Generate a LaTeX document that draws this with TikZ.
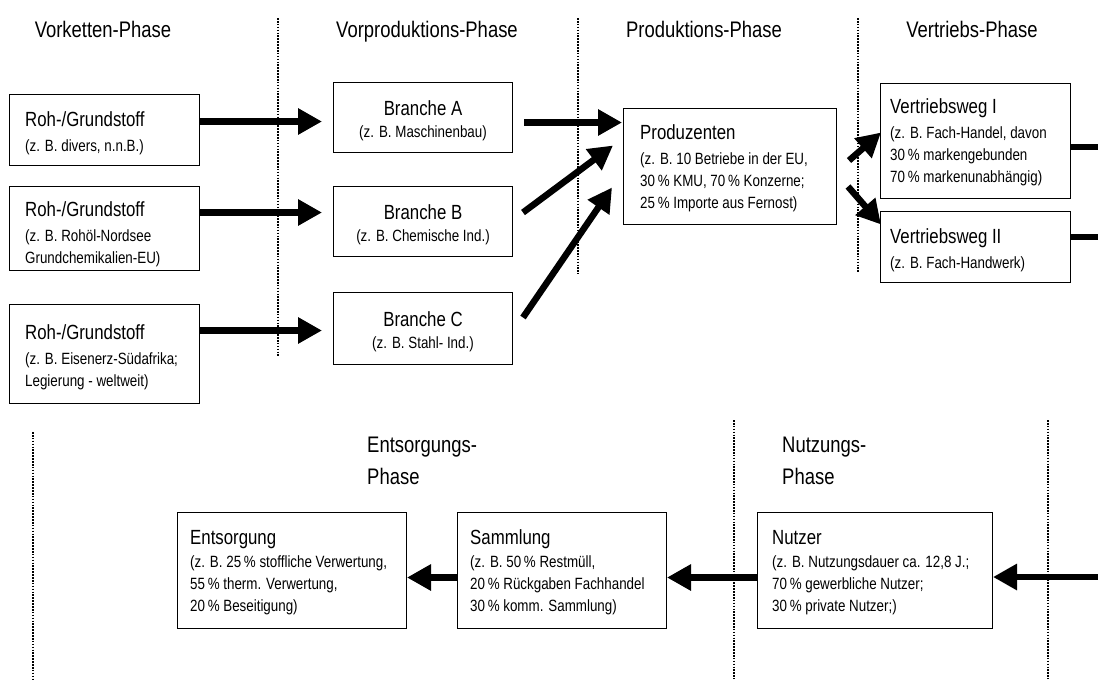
\documentclass[tikz,border=0pt]{standalone}
\usepackage{fontspec}
\setmainfont[FakeStretch=0.82]{Liberation Sans}
\usetikzlibrary{arrows.meta}
% font sizes: box titles, box details, phase headings
\newcommand\hd[1]{{\fontsize{20.5pt}{24pt}\selectfont #1}}
\newcommand\subf{\fontsize{16.3pt}{22pt}\selectfont}
\newcommand\phf{\fontsize{22.5pt}{32pt}\selectfont}
\begin{document}
\begin{tikzpicture}[x=1pt,y=-1pt,
  phase/.style={font=\phf, inner sep=0pt, text=black},
  frame/.style={draw=black, line width=1pt, anchor=north west, inner sep=0pt},
  txt/.style={align=left, anchor=west, inner sep=0pt, font=\subf, text=black},
  ctxt/.style={align=center, anchor=center, inner sep=0pt, font=\subf, text=black},
  arr/.style={line width=6.5pt, -{Triangle[length=24pt,width=25pt]}},
  bar/.style={line width=6.5pt},
  sep/.style={line width=1.6pt, dash pattern=on 1.6pt off 1.3pt}]
\path[use as bounding box] (0,0) rectangle (1098,681);

% phase separators
\draw[sep] (278,18) -- (278,357);
\draw[sep] (578,18) -- (578,274);
\draw[sep] (858,18) -- (858,272);
\draw[sep] (33,432) -- (33,679);
\draw[sep] (734,420) -- (734,679);
\draw[sep] (1048,420) -- (1048,679);

% phase headings
\node[phase, anchor=base] (ph1) at (103,37) {Vorketten-Phase};
\node[phase, anchor=base] (ph2) at (427,37) {Vorproduktions-Phase};
\node[phase, anchor=base] (ph3) at (704,37) {Produktions-Phase};
\node[phase, anchor=base] (ph4) at (972,37) {Vertriebs-Phase};
\node[phase, anchor=north west, align=left] (ph5) at (367,437) {Entsorgungs-\\Phase};
\node[phase, anchor=north west, align=left] (ph6) at (782,437) {Nutzungs-\\Phase};

% frames
\node[frame, minimum width=190pt, minimum height=71pt] (roh1) at (9,94) {};
\node[frame, minimum width=190pt, minimum height=84pt] (roh2) at (9,186) {};
\node[frame, minimum width=190pt, minimum height=99pt] (roh3) at (9,304) {};
\node[frame, minimum width=179pt, minimum height=70pt] (brA) at (333,82) {};
\node[frame, minimum width=179pt, minimum height=70pt] (brB) at (333,186) {};
\node[frame, minimum width=179pt, minimum height=72pt] (brC) at (333,292) {};
\node[frame, minimum width=213pt, minimum height=116pt] (prod) at (623,108) {};
\node[frame, minimum width=190pt, minimum height=115pt] (vw1) at (880,83) {};
\node[frame, minimum width=190pt, minimum height=71pt] (vw2) at (880,211) {};
\node[frame, minimum width=229pt, minimum height=116pt] (ents) at (177,512) {};
\node[frame, minimum width=209pt, minimum height=116pt] (samm) at (457,512) {};
\node[frame, minimum width=235pt, minimum height=116pt] (nutz) at (757,512) {};

% frame texts
\node[txt] (roh1t) at ([xshift=16pt,yshift=-3pt]roh1.west)
  {\hd{Roh-/Grundstoff}\\[3pt](z. B. divers, n.n.B.)};
\node[txt] (roh2t) at ([xshift=16pt,yshift=-6pt]roh2.west)
  {\hd{Roh-/Grundstoff}\\[3pt](z. B. Rohöl-Nordsee\\Grundchemikalien-EU)};
\node[txt] (roh3t) at ([xshift=16pt,yshift=-3pt]roh3.west)
  {\hd{Roh-/Grundstoff}\\[3pt](z. B. Eisenerz-Südafrika;\\Legierung - weltweit)};
\node[ctxt] (brAt) at ([yshift=-3pt]brA.center) {\hd{Branche A}\\(z. B. Maschinenbau)};
\node[ctxt] (brBt) at ([yshift=-3pt]brB.center) {\hd{Branche B}\\(z. B. Chemische Ind.)};
\node[ctxt] (brCt) at ([yshift=-3pt]brC.center) {\hd{Branche C}\\(z. B. Stahl- Ind.)};
\node[txt] (prodt) at ([xshift=17pt,yshift=-2pt]prod.west)
  {\hd{Produzenten}\\[3pt](z. B. 10 Betriebe in der EU,\\30\,\% KMU, 70\,\% Konzerne;\\25\,\% Importe aus Fernost)};
\node[txt] (vw1t) at ([xshift=10pt,yshift=-1pt]vw1.west)
  {\hd{Vertriebsweg I}\\[3pt](z. B. Fach-Handel, davon\\30\,\% markengebunden\\70\,\% markenunabhängig)};
\node[txt] (vw2t) at ([xshift=10pt,yshift=-3pt]vw2.west)
  {\hd{Vertriebsweg II}\\[3pt](z. B. Fach-Handwerk)};
\node[txt] (entst) at ([xshift=13pt,yshift=-2pt]ents.west)
  {\hd{Entsorgung}\\[1pt](z. B. 25\,\% stoffliche Verwertung,\\55\,\% therm. Verwertung,\\20\,\% Beseitigung)};
\node[txt] (sammt) at ([xshift=13pt,yshift=-2pt]samm.west)
  {\hd{Sammlung}\\[1pt](z. B. 50\,\% Restmüll,\\20\,\% Rückgaben Fachhandel\\30\,\% komm. Sammlung)};
\node[txt] (nutzt) at ([xshift=15pt,yshift=-2pt]nutz.west)
  {\hd{Nutzer}\\[1pt](z. B. Nutzungsdauer ca. 12,8 J.;\\70\,\% gewerbliche Nutzer;\\30\,\% private Nutzer;)};

% raw materials to branches
\coordinate (r1) at ([yshift=8.5pt]roh1.east);
\coordinate (r2) at ([yshift=16pt]roh2.east);
\coordinate (r3) at ([yshift=23.5pt]roh3.east);
\draw[arr, shorten >=11pt] (r1) -- (r1 -| brA.west);
\draw[arr, shorten >=11pt] (r2) -- (r2 -| brB.west);
\draw[arr, shorten >=11pt] (r3) -- (r3 -| brC.west);

% branches to producers
\coordinate (bA) at ([yshift=-5pt]brA.east);
\draw[arr, shorten <=11pt, shorten >=1pt] (bA) -- (bA -| prod.west);
\draw[arr] ([xshift=10pt,yshift=9pt]brB.east) -- ([xshift=-10pt,yshift=21pt]prod.west);
\draw[arr] ([xshift=10pt,yshift=11pt]brC.east) -- ([xshift=-11pt,yshift=-21pt]prod.west);

% producers to distribution
\draw[arr] ([xshift=12pt,yshift=6pt]prod.east) -- ([xshift=1pt,yshift=8.5pt]vw1.west);
\draw[arr] ([xshift=11pt,yshift=-20pt]prod.east) -- ([xshift=1pt,yshift=22.5pt]vw2.west);

% distribution leaves to the right, use returns from the right
\coordinate (e1) at (1098,147);
\coordinate (e2) at (1098,237);
\coordinate (e3) at (1098,577);
\draw[bar] (vw1.east |- e1) -- (e1);
\draw[bar] (vw2.east |- e2) -- (e2);
\draw[arr] (e3) -- (e3 -| nutz.east);

% use to collection to disposal
\coordinate (n1) at ([yshift=-7pt]nutz.west);
\coordinate (s1) at ([yshift=-7pt]samm.west);
\draw[arr] (n1) -- (n1 -| samm.east);
\draw[arr] (s1) -- (s1 -| ents.east);
\end{tikzpicture}
\end{document}
